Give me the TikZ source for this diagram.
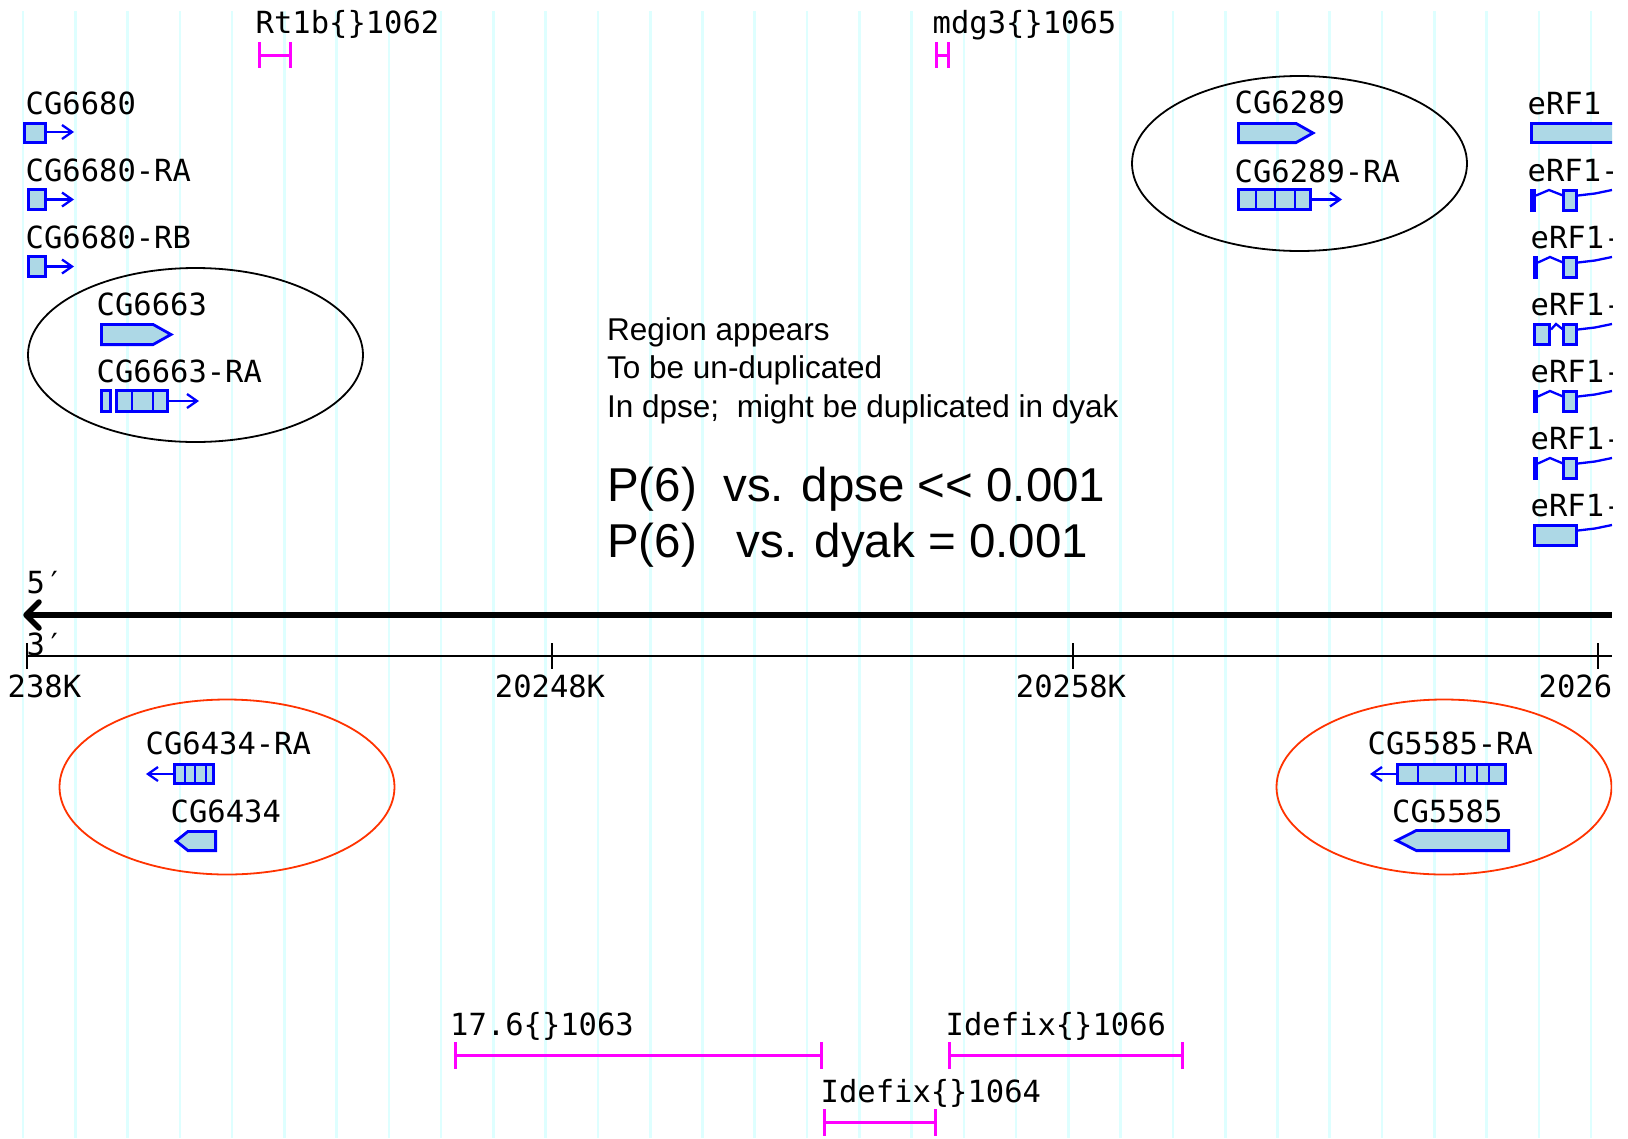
\documentclass[tikz,border=0pt]{standalone}
\usepackage{fontspec}
\setmonofont{DejaVu Sans Mono}
\setsansfont{Liberation Sans}
\definecolor{gridc}{RGB}{222,255,255}
\definecolor{gblue}{RGB}{0,0,255}
\definecolor{gfill}{RGB}{173,216,230}
\definecolor{gmag}{RGB}{255,0,255}
\definecolor{ered}{RGB}{255,51,0}
\newcommand{\gExon}[4]{\draw[exon] ({#1+1.4},{#2+1.4}) rectangle ({#3-1.4},{#4-1.4});}
\newcommand{\gDiv}[3]{\draw[gblue, line width=2.6pt] (#1,#2) -- (#1,#3);}
\newcommand{\gRArr}[3]{\draw[intr] (#1,#3) -- (#2,#3); \draw[intr] ({#2-10},{#3-7}) -- (#2,#3) -- ({#2-10},{#3+7});}
\newcommand{\gLArr}[3]{\draw[intr] (#1,#3) -- (#2,#3); \draw[intr] ({#1+10},{#3-7}) -- (#1,#3) -- ({#1+10},{#3+7});}
\newcommand{\gRPent}[5]{\draw[exon] ({#1+1.4},{#4+1.4}) -- (#2,{#4+1.4}) -- ({#3-2},{(#4+#5)/2}) -- (#2,{#5-1.4}) -- ({#1+1.4},{#5-1.4}) -- cycle;}
\newcommand{\gLPent}[5]{\draw[exon] ({#3-1.4},{#4+1.4}) -- (#2,{#4+1.4}) -- ({#1+2},{(#4+#5)/2}) -- (#2,{#5-1.4}) -- ({#3-1.4},{#5-1.4}) -- cycle;}
\newcommand{\gFeat}[4]{\draw[feat] ({#1+1.5},#3) -- ({#1+1.5},#4) ({#2-1.5},#3) -- ({#2-1.5},#4) ({#1+1.5},{(#3+#4)/2}) -- ({#2-1.5},{(#3+#4)/2});}
\begin{document}
\begin{tikzpicture}[x=1pt,y=-1pt,
  lbl/.style={font=\ttfamily\fontsize{30.5}{30.5}\selectfont, anchor=base west, inner sep=0pt, text=black},
  note/.style={font=\sffamily\fontsize{31.5}{31.5}\selectfont, anchor=base west, inner sep=0pt},
  bignote/.style={font=\sffamily\fontsize{47.5}{47.5}\selectfont, anchor=base west, inner sep=0pt},
  exon/.style={draw=gblue, fill=gfill, line width=2.8pt},
  intr/.style={draw=gblue, line width=2.3pt},
  feat/.style={draw=gmag, line width=3pt},
  blackell/.style={draw=black, line width=1.8pt},
  redell/.style={draw=ered, line width=1.8pt}]
\useasboundingbox (0,0) rectangle (1628,1138);
\fill[white] (0,0) rectangle (1628,1138);
\begin{scope}
\clip (0,0) rectangle (1612,1138);
% grid
\foreach \k in {0,...,30} \draw[gridc, line width=2.6pt] ({23+52.27*\k},11) -- ({23+52.27*\k},1138);

% top features
\node[lbl] (rt1b) at (255.5,33) {Rt1b\{\}1062};
\gFeat{258}{292}{42}{68}
\node[lbl] (mdg3) at (932.5,33) {mdg3\{\}1065};
\gFeat{935}{950}{42}{68}

% CG6680 group
\node[lbl] (cg6680) at (25.5,114) {CG6680};
\gExon{23}{122}{47}{144} \gRArr{47}{72}{132}
\node[lbl] (cg6680ra) at (25.5,181) {CG6680-RA};
\gExon{27}{188}{47}{211} \gRArr{47}{72}{199.5}
\node[lbl] (cg6680rb) at (25.5,248) {CG6680-RB};
\gExon{27}{255}{47}{278} \gRArr{47}{72}{266.5}

% CG6663 group
\node[lbl] (cg6663) at (96.5,315) {CG6663};
\gRPent{100}{153}{173}{323}{346}
\node[lbl] (cg6663ra) at (96.5,382) {CG6663-RA};
\gExon{100}{389}{112}{413}
\gExon{115}{389}{169}{413}
\gDiv{132}{389}{413} \gDiv{153}{389}{413}
\gRArr{169}{197}{401}
\draw[blackell] (195.5,355) ellipse [x radius=167.5, y radius=87];

% CG6289 group
\node[lbl] (cg6289) at (1234.5,113) {CG6289};
\gRPent{1237}{1296}{1315}{122}{144}
\node[lbl] (cg6289ra) at (1234.5,182) {CG6289-RA};
\gExon{1237}{188}{1312}{211}
\gDiv{1256}{188}{211} \gDiv{1275}{188}{211} \gDiv{1295}{188}{211}
\gRArr{1312}{1340}{199.5}
\draw[blackell] (1299.5,163.5) ellipse [x radius=167.5, y radius=87.5];

% eRF1 column
\node[lbl] (erf1) at (1527.5,114) {eRF1};
\gExon{1530}{122}{1640}{144}
\node[lbl] (erf1a) at (1527.5,181) {eRF1-};
\fill[gblue] (1530,189) rectangle (1536,212);
\draw[intr] (1536,195.5) -- (1549,190) -- (1563,195.5);
\gExon{1562}{189}{1578}{212}
\draw[intr] (1578,195.5) -- (1595,193.5) -- (1612,190);
\node[lbl] (erf1b) at (1530.5,248) {eRF1-};
\fill[gblue] (1533,256) rectangle (1538,279);
\draw[intr] (1538,262.5) -- (1550,257) -- (1563,262.5);
\gExon{1562}{256}{1578}{279}
\draw[intr] (1578,262.5) -- (1595,260.5) -- (1612,257);
\node[lbl] (erf1c) at (1530.5,315) {eRF1-};
\gExon{1533}{323}{1551}{346}
\draw[intr] (1551,329.5) -- (1556,324) -- (1563,329.5);
\gExon{1562}{323}{1578}{346}
\draw[intr] (1578,329.5) -- (1595,327.5) -- (1612,324);
\node[lbl] (erf1d) at (1530.5,382) {eRF1-};
\fill[gblue] (1533,390) rectangle (1538,413);
\draw[intr] (1538,396.5) -- (1550,391) -- (1563,396.5);
\gExon{1562}{390}{1578}{413}
\draw[intr] (1578,396.5) -- (1595,394.5) -- (1612,391);
\node[lbl] (erf1e) at (1530.5,449) {eRF1-};
\fill[gblue] (1533,457) rectangle (1538,480);
\draw[intr] (1538,463.5) -- (1550,458) -- (1563,463.5);
\gExon{1562}{457}{1578}{480}
\draw[intr] (1578,463.5) -- (1595,461.5) -- (1612,458);
\node[lbl] (erf1f) at (1530.5,516) {eRF1-};
\gExon{1533}{524}{1578}{547}
\draw[intr] (1578,530.5) -- (1595,528.5) -- (1612,525);

% notes
\node[note] (n1) at (607,340) {Region appears};
\node[note] (n2) at (607,378.5) {To be un-duplicated};
\node[note] (n3) at (607,417) {In dpse;\ \ might be duplicated in dyak};
\node[bignote] (p1) at (607,501) {P(6)\ \ vs. dpse <{}< 0.001};
\node[bignote] (p2) at (607,557) {P(6)\ \ \ vs. dyak = 0.001};

% axis
\node[lbl] (five) at (26.5,593) {5′};
\draw[line width=6pt] (30,615) -- (1612,615);
\draw[line width=5.5pt, line join=round, line cap=round] (39,602) -- (26,615) -- (39,628);
\node[lbl] (three) at (26.5,655) {3′};
\draw[line width=2.3pt] (27,656) -- (1612,656);
\foreach \t in {27,552,1073,1598} \draw[line width=2.3pt] (\t,643) -- (\t,669);
\node[lbl] (t0) at (7.5,697) {238K};
\node[lbl, anchor=base] (t1) at (550,697) {20248K};
\node[lbl, anchor=base] (t2) at (1071,697) {20258K};
\node[lbl] (t3) at (1538.5,697) {2026};

% CG6434 group
\node[lbl] (cg6434ra) at (145.5,754) {CG6434-RA};
\gLArr{148}{174}{774}
\gExon{173}{763}{215}{785}
\gDiv{185}{763}{785} \gDiv{195}{763}{785} \gDiv{206}{763}{785}
\node[lbl] (cg6434) at (170.5,822) {CG6434};
\gLPent{174}{188}{217}{830}{852}
\draw[redell] (227,787) ellipse [x radius=167.5, y radius=87.5];

% CG5585 group
\node[lbl] (cg5585ra) at (1367.5,754) {CG5585-RA};
\gLArr{1372}{1397}{774}
\gExon{1396}{763}{1507}{785}
\gDiv{1418}{763}{785} \gDiv{1456}{763}{785} \gDiv{1465}{763}{785} \gDiv{1477}{763}{785} \gDiv{1489}{763}{785}
\node[lbl] (cg5585) at (1392,822) {CG5585};
\gLPent{1394.5}{1416.5}{1510}{829}{852}
\draw[redell] (1444,787) ellipse [x radius=167.5, y radius=87.5];

% bottom features
\node[lbl] (f1063) at (450,1035) {17.6\{\}1063};
\gFeat{454}{823}{1042}{1069}
\node[lbl] (f1066) at (945.5,1035) {Idefix\{\}1066};
\gFeat{948}{1184}{1042}{1069}
\node[lbl] (f1064) at (820.5,1102) {Idefix\{\}1064};
\gFeat{823}{937}{1109}{1136}
\end{scope}
\end{tikzpicture}
\end{document}
